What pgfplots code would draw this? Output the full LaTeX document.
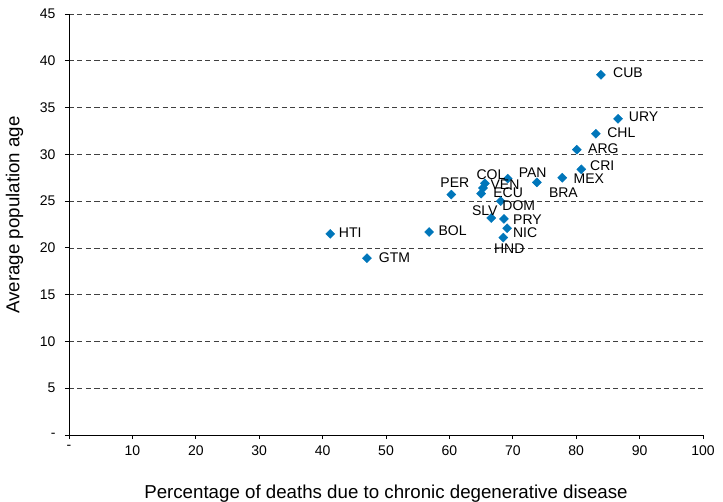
\documentclass[border=0pt]{standalone}
\usepackage{fontspec}
\setmainfont{Liberation Sans}
\usepackage{pgfplots}
\pgfplotsset{compat=1.18}
\usepackage{pgfplotstable}
\definecolor{ptcol}{RGB}{0,118,186}

\pgfplotstableread{
x    y    lab dx   dy
83.9 38.5 CUB 27   2
86.6 33.8 URY 25.5 2
83.1 32.2 CHL 25.5 1
80.1 30.5 ARG 26.5 1
80.8 28.4 CRI 21   4
77.8 27.5 MEX 26.5 -1
73.8 27.0 BRA 26.5 -10
69.2 27.4 PAN 25   6
65.6 26.9 COL 6    9
65.3 26.4 VEN 22   3
65.0 25.8 ECU 27   1
60.3 25.7 PER 3.5  12
68.1 25.0 DOM 18   -5
66.6 23.2 SLV -6.5 7
68.6 23.1 PRY 23.5 -1
69.1 22.1 NIC 18   -4
68.5 21.1 HND 6    -11
56.8 21.7 BOL 23.5 1
41.2 21.5 HTI 20   1
47.0 18.9 GTM 27.5 1
}\datatable

\begin{document}
\begin{tikzpicture}
\useasboundingbox (0,0) rectangle (723pt,501pt);
\begin{axis}[
  at={(69pt,66pt)}, anchor=south west,
  scale only axis, width=634pt, height=421pt,
  xmin=0, xmax=100, ymin=0, ymax=45,
  axis x line*=bottom, axis y line*=left,
  axis line style={-, black, line width=0.8pt},
  xtick={0,10,...,100},
  xticklabels={-,10,20,30,40,50,60,70,80,90,100},
  ytick={0,5,...,45},
  yticklabels={-,5,10,15,20,25,30,35,40,45},
  tick align=outside, major tick length=4pt,
  tick style={black, line width=0.8pt},
  ymajorgrids,
  grid style={black!75, line width=0.6pt, dash pattern=on 5pt off 3.5pt},
  ticklabel style={font=\fontsize{14}{14}\selectfont},
  xticklabel style={yshift=-3pt},
  yticklabel style={xshift=-6pt},
  xlabel={Percentage of deaths due to chronic degenerative disease},
  ylabel={Average population age},
  label style={font=\fontsize{18.7}{18.7}\selectfont},
  xlabel style={at={(axis description cs:0.5,0)}, anchor=base, yshift=-63pt},
  ylabel style={at={(axis description cs:0,0.5)}, anchor=center, rotate=0, xshift=9.5pt, yshift=54.5pt},
  clip=false,
  nodes near coords,
  point meta=explicit symbolic,
  nodes near coords align=center,
  visualization depends on={\thisrow{dx}\as\mydx},
  visualization depends on={\thisrow{dy}\as\mydy},
  nodes near coords style={anchor=center, xshift=\mydx pt, yshift=\mydy pt,
     font=\fontsize{14}{14}\selectfont, text=black, inner sep=0pt},
]
\addplot[only marks, mark=square*, mark size=3.2pt,
  mark options={rotate=45, fill=ptcol, draw=ptcol}]
  table[x=x, y=y, meta=lab] {\datatable};
\end{axis}
\end{tikzpicture}
\end{document}
